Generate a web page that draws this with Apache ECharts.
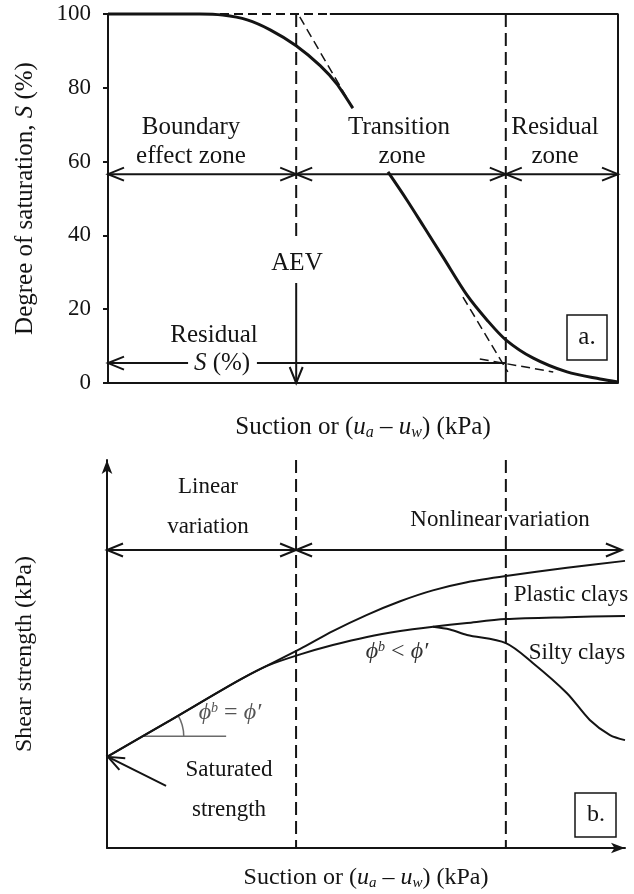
<!DOCTYPE html>
<html>
<head>
<meta charset="utf-8">
<script src="https://cdn.jsdelivr.net/npm/echarts@6/dist/echarts.min.js"></script>
<style>
  html, body { margin: 0; padding: 0; background: #fff; }
  #chart { width: 634px; height: 894px; }
</style>
</head>
<body>
<div id="chart"></div>
<script>
// ---- (a) Soil-water characteristic curve: degree of saturation vs suction ----
const saturationTicks = [0, 20, 40, 60, 80, 100];

// drying curve, upper part (boundary effect zone into transition zone)
const swccSuctionUpper = [0, 18, 22.5, 27.3, 31.8, 36.9, 41.6, 44.9, 48.0];
const swccSaturationUpper = [100, 100, 99.7, 98.4, 95.7, 91.4, 86.0, 81.0, 74.5];

// drying curve, lower part (transition zone into residual zone)
const swccSuctionLower = [54.9, 58.6, 62.0, 65.7, 70.4, 74.3, 78.0, 83.3, 90.0, 96.5, 100];
const swccSaturationLower = [57.2, 49.6, 42.2, 34.1, 23.8, 17.1, 11.7, 6.8, 3.0, 1.1, 0.3];

// construction lines used to locate the AEV and residual state
const tangentTopSuction = [37.6, 48.0];
const tangentTopSaturation = [99.2, 74.5];
const tangentLowSuction = [69.6, 78.4];
const tangentLowSaturation = [23.3, 3.0];
const residualLineSuction = [72.9, 87.3];
const residualLineSaturation = [6.5, 3.0];
const fullSaturationLine = [0, 43.5];

// zone boundaries
const aevSuction = 36.9;
const residualSuction = 78.0;
const zoneArrowLevel = 56.6;
const residualSaturation = 5.4;

// ---- (b) Shear strength vs suction ----
const strengthSuction = [0, 12.2, 25.7, 37.3, 43.6, 50.2, 56.6, 62.9, 69.5, 77.0, 88.8, 100];
const strengthPlastic = [23.5, 32.9, 43.4, 51.3, 55.9, 60.1, 63.6, 66.4, 68.5, 70.1, 72.2, 74.0];

const strengthFlatSuction = [0, 12.2, 25.7, 31.0, 37.3, 43.6, 50.2, 56.6, 62.9, 69.5, 77.0, 88.8, 100];
const strengthFlat = [23.5, 32.9, 43.4, 47.0, 49.9, 52.3, 54.4, 55.9, 57.0, 58.0, 59.0, 59.5, 59.8];

const strengthSiltySuction = [62.9, 66.2, 69.5, 77.0, 82.2, 88.8, 93.2, 97.1, 100];
const strengthSilty = [57.0, 56.3, 54.9, 52.8, 47.7, 39.9, 33.0, 29.1, 27.8];

const linearLimitSuction = 36.5;
const nonlinearLimitSuction = 77.0;
const variationArrowLevel = 76.8;
const saturatedStrength = 23.5;
const frictionAngleRef = [6.9, 28.8];   // start of horizontal reference for the angle
const frictionRefEnd = 23.0;

// ---------------------------------------------------------------------------
const INK = '#141414';
const GREY = '#6a6a6a';
const SERIF = '"Liberation Serif", "Times New Roman", serif';

const zip = (xs, ys) => xs.map((x, i) => [x, ys[i]]);

function lineSeries(grid, data, opts) {
  return Object.assign({
    type: 'line',
    xAxisIndex: grid, yAxisIndex: grid,
    data: data,
    symbol: 'none',
    clip: false,
    silent: true,
    lineStyle: { color: INK, width: 2 }
  }, opts || {});
}

function curveSeries(grid, data, width) {
  return lineSeries(grid, data, {
    smooth: 0.3,
    lineStyle: { color: INK, width: width }, z: 4
  });
}

// arrows: [x1, y1, x2, y2, headAtStart, headAtEnd]
function renderArrow(params, api) {
  const p1 = api.coord([api.value(0), api.value(1)]);
  const p2 = api.coord([api.value(2), api.value(3)]);
  const hs = api.value(4), he = api.value(5);
  const ang = Math.atan2(p2[1] - p1[1], p2[0] - p1[0]);
  const children = [{
    type: 'line',
    shape: { x1: p1[0], y1: p1[1], x2: p2[0], y2: p2[1] },
    style: { stroke: INK, lineWidth: 2 }
  }];
  function head(tip, dir) {
    const L = 16, W = 6.5;
    const bx = tip[0] + Math.cos(dir) * L, by = tip[1] + Math.sin(dir) * L;
    const nx = -Math.sin(dir) * W, ny = Math.cos(dir) * W;
    return {
      type: 'polyline',
      shape: { points: [[bx + nx, by + ny], [tip[0], tip[1]], [bx - nx, by - ny]] },
      style: { stroke: INK, lineWidth: 2, fill: null }
    };
  }
  if (he) children.push(head(p2, ang + Math.PI));
  if (hs) children.push(head(p1, ang));
  return { type: 'group', children: children };
}

function arrowSeries(grid, data) {
  return {
    type: 'custom',
    xAxisIndex: grid, yAxisIndex: grid,
    renderItem: renderArrow,
    encode: { x: [0, 2], y: [1, 3] },
    data: data,
    silent: true,
    z: 5
  };
}

const topArrows = [
  [0, zoneArrowLevel, aevSuction, zoneArrowLevel, 1, 1],
  [aevSuction, zoneArrowLevel, residualSuction, zoneArrowLevel, 1, 1],
  [residualSuction, zoneArrowLevel, 100, zoneArrowLevel, 1, 1],
  [aevSuction, 27.1, aevSuction, 0, 0, 1],
  [0, residualSaturation, 15.7, residualSaturation, 1, 0],
  [29.2, residualSaturation, residualSuction, residualSaturation, 0, 0]
];

const bottomArrows = [
  [0, variationArrowLevel, linearLimitSuction, variationArrowLevel, 1, 1],
  [linearLimitSuction, variationArrowLevel, 99.4, variationArrowLevel, 1, 1],
  [11.4, 16.0, 0.2, saturatedStrength, 0, 1]
];

const axisName = (size) => ({
  fontFamily: SERIF, fontSize: size, color: INK,
  rich: {
    i: { fontFamily: SERIF, fontSize: size, fontStyle: 'italic', color: INK },
    sub: { fontFamily: SERIF, fontSize: Math.round(size * 0.62), fontStyle: 'italic', color: INK, padding: [12, 0, 0, 0] }
  }
});

const suctionName = 'Suction or ({i|u}{sub|a} – {i|u}{sub|w}) (kPa)';

function txt(x, y, text, size, extra) {
  const st = Object.assign({
    text: text,
    fontFamily: SERIF,
    fontSize: size,
    fill: INK,
    align: 'center',
    verticalAlign: 'middle'
  }, extra || {});
  return { type: 'text', x: x, y: y, style: st, z: 10, silent: true };
}

const phiRich = (color) => ({
  p: { fontFamily: SERIF, fontSize: 24, fontStyle: 'italic', fill: color, color: color },
  s: { fontFamily: SERIF, fontSize: 14, fontStyle: 'italic', fill: color, color: color, padding: [0, 0, 10, 0] },
  t: { fontFamily: SERIF, fontSize: 24, fill: color, color: color }
});

const chart = echarts.init(document.getElementById('chart'), null, { renderer: 'canvas' });

const option = {
  backgroundColor: '#ffffff',
  animation: false,
  grid: [
    { left: 108, right: 16, top: 14, height: 369 },
    { left: 107, right: 9, top: 460, height: 388 }
  ],
  xAxis: [
    {
      gridIndex: 0, type: 'value', min: 0, max: 100,
      axisLine: { lineStyle: { color: INK, width: 2 } },
      axisTick: { show: false }, axisLabel: { show: false }, splitLine: { show: false },
      name: suctionName, nameLocation: 'middle', nameGap: 30,
      nameTextStyle: axisName(25)
    },
    {
      gridIndex: 1, type: 'value', min: 0, max: 100,
      axisLine: { lineStyle: { color: INK, width: 2 }, symbol: ['none', 'arrow'], symbolSize: [8, 14] },
      axisTick: { show: false }, axisLabel: { show: false }, splitLine: { show: false },
      name: suctionName, nameLocation: 'middle', nameGap: 16,
      nameTextStyle: axisName(24)
    }
  ],
  yAxis: [
    {
      gridIndex: 0, type: 'value', min: saturationTicks[0], max: saturationTicks[saturationTicks.length - 1], interval: 20,
      axisLine: { show: true, lineStyle: { color: INK, width: 2 } },
      axisTick: { show: true, length: 5, lineStyle: { color: INK, width: 2 } },
      axisLabel: { fontFamily: SERIF, fontSize: 23, color: INK, margin: 17 },
      splitLine: { show: false },
      name: 'Degree of saturation, {i|S} (%)', nameLocation: 'middle', nameGap: 70,
      nameTextStyle: axisName(25)
    },
    {
      gridIndex: 1, type: 'value', min: 0, max: 100,
      axisLine: { show: true, lineStyle: { color: INK, width: 2 }, symbol: ['none', 'arrow'], symbolSize: [8, 14] },
      axisTick: { show: false }, axisLabel: { show: false }, splitLine: { show: false },
      name: 'Shear strength (kPa)', nameLocation: 'middle', nameGap: 70,
      nameTextStyle: axisName(24)
    }
  ],
  series: [
    // ---- panel (a) ----
    curveSeries(0, zip(swccSuctionUpper, swccSaturationUpper), 3),
    curveSeries(0, zip(swccSuctionLower, swccSaturationLower), 3),
    lineSeries(0, zip(tangentTopSuction, tangentTopSaturation), { lineStyle: { color: INK, width: 1.5, type: [9, 5] } }),
    lineSeries(0, zip(tangentLowSuction, tangentLowSaturation), { lineStyle: { color: INK, width: 1.5, type: [9, 5] } }),
    lineSeries(0, zip(residualLineSuction, residualLineSaturation), { lineStyle: { color: INK, width: 1.5, type: [9, 5] } }),
    lineSeries(0, zip(fullSaturationLine, [100, 100]), { lineStyle: { color: INK, width: 2, type: [9, 5] } }),
    // frame: top and right edges
    lineSeries(0, [[fullSaturationLine[1], 100], [100, 100], [100, 0]], { lineStyle: { color: INK, width: 2 } }),
    // zone boundaries
    lineSeries(0, [[aevSuction, 100], [aevSuction, 38.2]], { lineStyle: { color: INK, width: 2, type: [13, 6] } }),
    lineSeries(0, [[residualSuction, 100], [residualSuction, residualSaturation]], { lineStyle: { color: INK, width: 2, type: [13, 6] } }),
    lineSeries(0, [[residualSuction, residualSaturation], [residualSuction, 0]], { lineStyle: { color: INK, width: 2 } }),
    arrowSeries(0, topArrows),

    // ---- panel (b) ----
    curveSeries(1, zip(strengthSuction, strengthPlastic), 2),
    curveSeries(1, zip(strengthFlatSuction, strengthFlat), 2),
    curveSeries(1, zip(strengthSiltySuction, strengthSilty), 2),
    lineSeries(1, [[linearLimitSuction, 100], [linearLimitSuction, 0]], { lineStyle: { color: INK, width: 2, type: [13, 6] } }),
    lineSeries(1, [[nonlinearLimitSuction, 100], [nonlinearLimitSuction, 0]], { lineStyle: { color: INK, width: 2, type: [13, 6] } }),
    lineSeries(1, [frictionAngleRef, [frictionRefEnd, frictionAngleRef[1]]], { lineStyle: { color: GREY, width: 1.5 } }),
    {
      type: 'custom', xAxisIndex: 1, yAxisIndex: 1, silent: true,
      encode: { x: 0, y: 1 },
      data: [[frictionAngleRef[0], frictionAngleRef[1], 31]],
      renderItem: function (params, api) {
        const c = api.coord([api.value(0), api.value(1)]);
        const a = api.value(2) * Math.PI / 180;
        return {
          type: 'arc',
          shape: { cx: c[0], cy: c[1], r: 41, startAngle: -a, endAngle: 0, clockwise: true },
          style: { stroke: GREY, lineWidth: 1.5, fill: null }
        };
      }
    },
    arrowSeries(1, bottomArrows)
  ],
  graphic: [
    // panel (a) annotations
    txt(191, 127, 'Boundary', 25),
    txt(191, 156, 'effect zone', 25),
    txt(399, 127, 'Transition', 25),
    txt(402, 156, 'zone', 25),
    txt(555, 127, 'Residual', 25),
    txt(555, 156, 'zone', 25),
    txt(297, 263, 'AEV', 25),
    txt(214, 335, 'Residual', 25),
    txt(222, 363, '{i|S} (%)', 25, { rich: { i: { fontFamily: SERIF, fontSize: 25, fontStyle: 'italic', fill: INK } } }),
    { type: 'rect', shape: { x: 567, y: 315, width: 40, height: 45 }, style: { stroke: INK, lineWidth: 1.5, fill: '#fff' }, z: 10, silent: true },
    txt(587, 337, 'a.', 25),
    // panel (b) annotations
    txt(208, 487, 'Linear', 23),
    txt(208, 527, 'variation', 23),
    txt(500, 520, 'Nonlinear variation', 23),
    txt(571, 595, 'Plastic clays', 23),
    txt(577, 653, 'Silty clays', 23),
    txt(397, 652, '{p|ϕ}{s|b}{t| < }{p|ϕ′}', 24, { rich: phiRich('#333') }),
    txt(230, 713, '{p|ϕ}{s|b}{t| = }{p|ϕ′}', 24, { rich: phiRich('#555') }),
    txt(229, 770, 'Saturated', 23),
    txt(229, 810, 'strength', 23),
    { type: 'rect', shape: { x: 575, y: 793, width: 41, height: 44 }, style: { stroke: INK, lineWidth: 1.5, fill: '#fff' }, z: 10, silent: true },
    txt(596, 815, 'b.', 24)
  ]
};

chart.setOption(option);
</script>
</body>
</html>
